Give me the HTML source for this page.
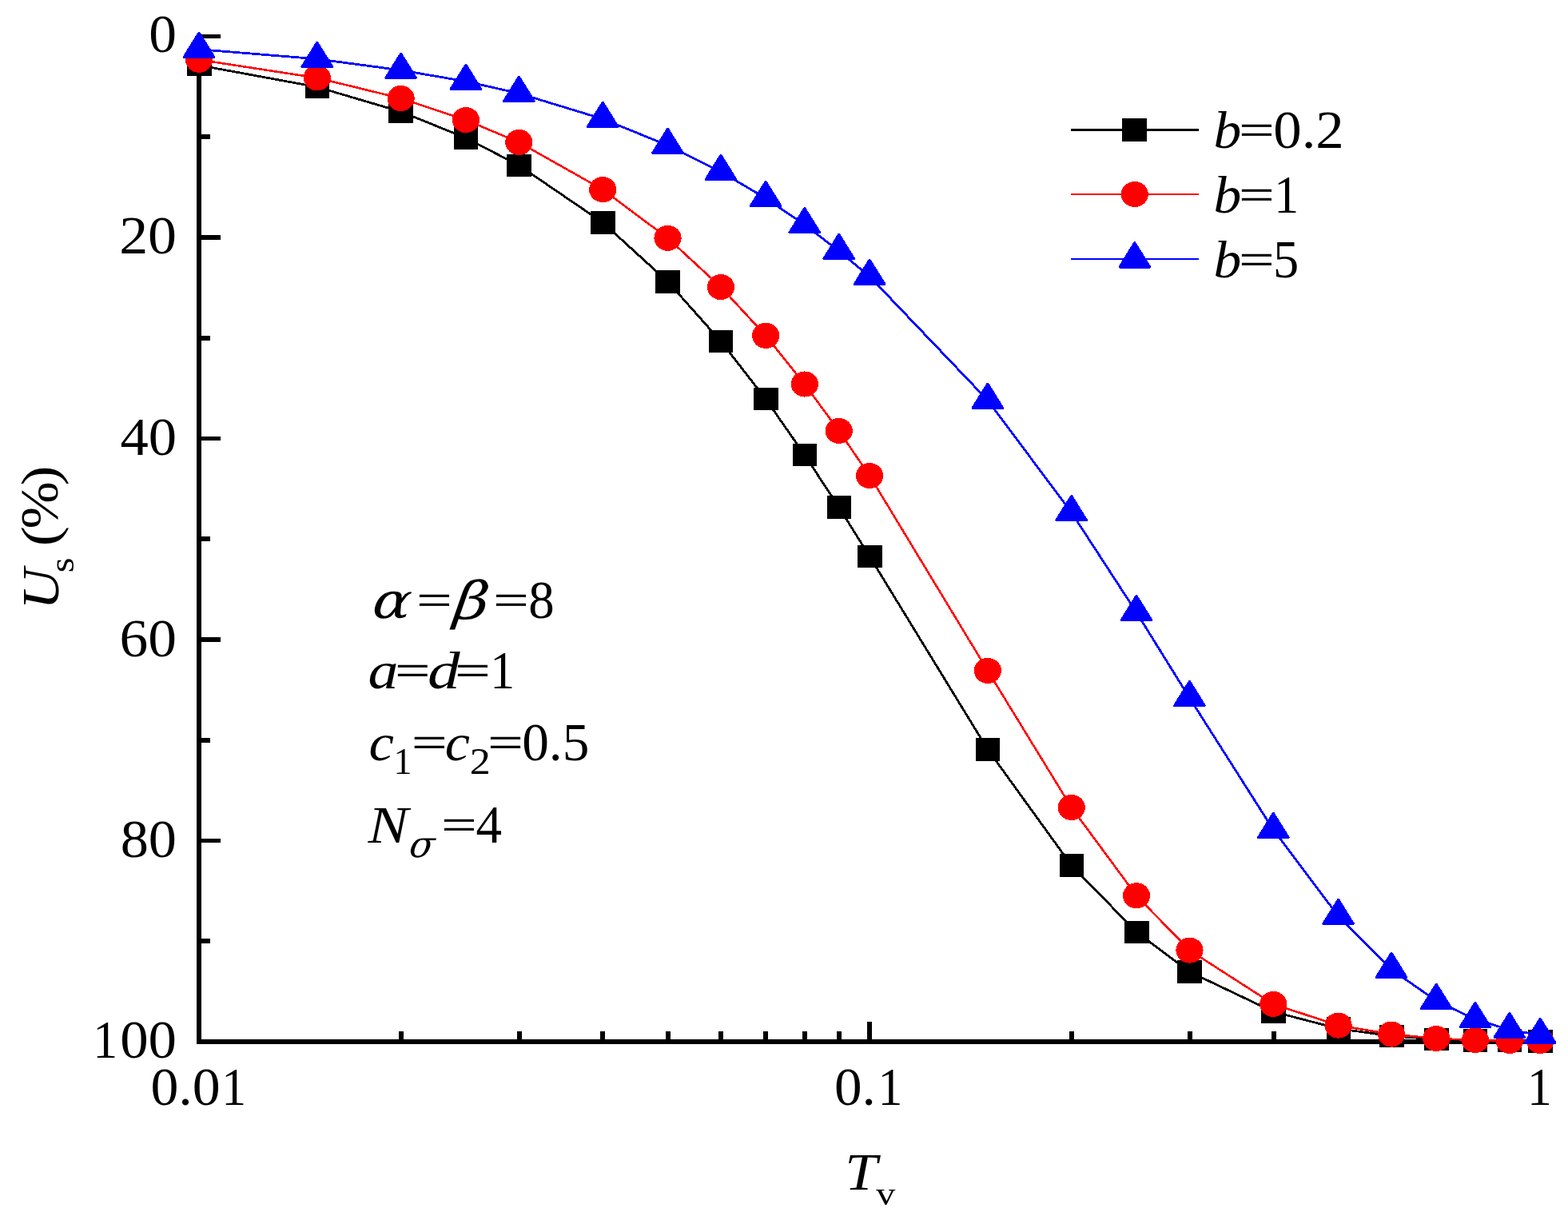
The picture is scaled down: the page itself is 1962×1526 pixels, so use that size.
<!DOCTYPE html>
<html lang="en"><head><meta charset="utf-8"><title>Us vs Tv</title>
<style>html,body{margin:0;padding:0;background:#fff}body{width:1962px;height:1526px;overflow:hidden}svg{display:block}
text{font-family:"Liberation Serif","DejaVu Serif",serif;font-size:66px;fill:#000;white-space:pre}.i{font-style:italic}.g{font-family:"DejaVu Math TeX Gyre","DejaVu Serif",serif}</style></head><body>
<svg width="1962" height="1526" viewBox="0 0 1962 1526">
<rect width="1962" height="1526" fill="#fff"/>
<g fill="#000" shape-rendering="crispEdges">
<rect x="246" y="43" width="6" height="1263"/>
<rect x="246" y="1300" width="1684" height="6"/>
<rect x="246" y="42.7" width="30" height="5.6"/>
<rect x="246" y="168.45" width="17" height="5.6"/>
<rect x="246" y="294.2" width="30" height="5.6"/>
<rect x="246" y="419.95" width="17" height="5.6"/>
<rect x="246" y="545.7" width="30" height="5.6"/>
<rect x="246" y="671.45" width="17" height="5.6"/>
<rect x="246" y="797.2" width="30" height="5.6"/>
<rect x="246" y="922.95" width="17" height="5.6"/>
<rect x="246" y="1048.7" width="30" height="5.6"/>
<rect x="246" y="1174.45" width="17" height="5.6"/>
<rect x="499" y="1290" width="6" height="13"/>
<rect x="647" y="1290" width="6" height="13"/>
<rect x="751" y="1290" width="6" height="13"/>
<rect x="833" y="1290" width="6" height="13"/>
<rect x="899" y="1290" width="6" height="13"/>
<rect x="955" y="1290" width="6" height="13"/>
<rect x="1004" y="1290" width="6" height="13"/>
<rect x="1047" y="1290" width="6" height="13"/>
<rect x="1085" y="1278" width="6" height="25"/>
<rect x="1338" y="1290" width="6" height="13"/>
<rect x="1486" y="1290" width="6" height="13"/>
<rect x="1591" y="1290" width="6" height="13"/>
<rect x="1672" y="1290" width="6" height="13"/>
<rect x="1738" y="1290" width="6" height="13"/>
<rect x="1795" y="1290" width="6" height="13"/>
<rect x="1843" y="1290" width="6" height="13"/>
<rect x="1886" y="1290" width="6" height="13"/>
<rect x="1925" y="1278" width="6" height="25"/>
</g>
<g>
<g><text transform="translate(186.3,65.4) scale(1.0329,1)" style="font-size:67.2px">0</text></g>
<g><text transform="translate(149.14,317.2) scale(1.0708,1)" style="font-size:67.2px">20</text></g>
<g><text transform="translate(150.39,569) scale(1.0515,1)" style="font-size:67.2px">40</text></g>
<g><text transform="translate(149.56,820.5) scale(1.0643,1)" style="font-size:67.2px">60</text></g>
<g><text transform="translate(150.66,1072.1) scale(1.0473,1)" style="font-size:67.2px">80</text></g>
<g><text transform="translate(116.14,1323.3) scale(0.92,1)" style="font-size:67.2px">1</text><text transform="translate(150.14,1323.3) scale(1.0553,1)" style="font-size:67.2px">00</text></g>
<g><text transform="translate(188.38,1381.6) scale(1.0398,1)" style="font-size:67.2px">0.0</text><text transform="translate(277.29,1381.6) scale(0.92,1)" style="font-size:67.2px">1</text></g>
<g><text transform="translate(1044.01,1381.6) scale(1.0296,1)" style="font-size:67.2px">0.</text><text transform="translate(1098.59,1381.6) scale(0.92,1)" style="font-size:67.2px">1</text></g>
<g><text transform="translate(1911.04,1381.6) scale(0.92,1)" style="font-size:67.2px">1</text></g>
</g>
<g>
<g><text transform="translate(1057.37,1488.3) scale(1.1019,1)" class="i">T</text><text transform="translate(1096.2,1506.57) scale(1.0435,0.9251)" style="font-size:46px">v</text></g>
<g><text transform="translate(72.54,762.39) rotate(-90) scale(1.0794,1.0071)" class="i">U</text><text transform="translate(91.85,716.13) rotate(-90) scale(1.0504,0.9828)" style="font-size:46px">s </text><text transform="translate(72.14,683.3) rotate(-90) scale(1.1415,0.9884)">(</text><text transform="translate(72.36,661.59) rotate(-90) scale(1.0774,1.0176)">%</text><text transform="translate(72.14,607.55) rotate(-90) scale(1.1415,0.9884)">)</text></g>
</g>
<g fill="#000" stroke="none" shape-rendering="crispEdges">
<polyline points="249,81.6 396.76,108.8 501.59,139.7 582.91,172.5 649.35,206.9 754.19,278.3 835.51,352.3 901.95,426.9 958.12,499.1 1006.78,569 1049.7,634.4 1088.1,696 1235.86,937.3 1340.69,1082.4 1422.01,1165.8 1488.45,1215.6 1593.29,1265.5 1674.61,1286.6 1741.05,1295.9 1797.22,1299.9 1845.88,1301.5 1888.8,1301.6 1927.2,1302.5" fill="none" stroke="#000" stroke-width="2.8" stroke-linejoin="round"/>
<rect x="233.9" y="65.9" width="30.6" height="28.6"/>
<rect x="381.66" y="94.5" width="30.6" height="28.6"/>
<rect x="486.49" y="125.4" width="30.6" height="28.6"/>
<rect x="567.81" y="158.2" width="30.6" height="28.6"/>
<rect x="634.25" y="192.6" width="30.6" height="28.6"/>
<rect x="739.09" y="264" width="30.6" height="28.6"/>
<rect x="820.41" y="338" width="30.6" height="28.6"/>
<rect x="886.85" y="412.6" width="30.6" height="28.6"/>
<rect x="943.02" y="484.8" width="30.6" height="28.6"/>
<rect x="991.68" y="554.7" width="30.6" height="28.6"/>
<rect x="1034.6" y="620.1" width="30.6" height="28.6"/>
<rect x="1073" y="681.7" width="30.6" height="28.6"/>
<rect x="1220.76" y="923" width="30.6" height="28.6"/>
<rect x="1325.59" y="1068.1" width="30.6" height="28.6"/>
<rect x="1406.91" y="1151.5" width="30.6" height="28.6"/>
<rect x="1473.35" y="1201.3" width="30.6" height="28.6"/>
<rect x="1578.19" y="1251.2" width="30.6" height="28.6"/>
<rect x="1659.51" y="1272.3" width="30.6" height="28.6"/>
<rect x="1725.95" y="1281.6" width="30.6" height="28.6"/>
<rect x="1782.12" y="1285.6" width="30.6" height="28.6"/>
<rect x="1830.78" y="1287.2" width="30.6" height="28.6"/>
<rect x="1873.7" y="1287.3" width="30.6" height="28.6"/>
<rect x="1912.1" y="1288.2" width="30.6" height="28.6"/>
</g>
<g fill="#f00" stroke="none" shape-rendering="crispEdges">
<polyline points="249,74.7 396.76,97.4 501.59,123 582.91,150.1 649.35,178 754.19,237.1 835.51,297.8 901.95,359.1 958.12,419.8 1006.78,480.5 1049.7,538.9 1088.1,595 1235.86,838.9 1340.69,1010 1422.01,1120.3 1488.45,1188.6 1593.29,1256 1674.61,1282.6 1741.05,1293.6 1797.22,1299 1845.88,1301 1888.8,1302 1927.2,1302" fill="none" stroke="#f00" stroke-width="2.6" stroke-linejoin="round"/>
<ellipse cx="249" cy="74.7" rx="17.1" ry="16.05"/>
<ellipse cx="396.76" cy="97.4" rx="17.1" ry="16.05"/>
<ellipse cx="501.59" cy="123" rx="17.1" ry="16.05"/>
<ellipse cx="582.91" cy="150.1" rx="17.1" ry="16.05"/>
<ellipse cx="649.35" cy="178" rx="17.1" ry="16.05"/>
<ellipse cx="754.19" cy="237.1" rx="17.1" ry="16.05"/>
<ellipse cx="835.51" cy="297.8" rx="17.1" ry="16.05"/>
<ellipse cx="901.95" cy="359.1" rx="17.1" ry="16.05"/>
<ellipse cx="958.12" cy="419.8" rx="17.1" ry="16.05"/>
<ellipse cx="1006.78" cy="480.5" rx="17.1" ry="16.05"/>
<ellipse cx="1049.7" cy="538.9" rx="17.1" ry="16.05"/>
<ellipse cx="1088.1" cy="595" rx="17.1" ry="16.05"/>
<ellipse cx="1235.86" cy="838.9" rx="17.1" ry="16.05"/>
<ellipse cx="1340.69" cy="1010" rx="17.1" ry="16.05"/>
<ellipse cx="1422.01" cy="1120.3" rx="17.1" ry="16.05"/>
<ellipse cx="1488.45" cy="1188.6" rx="17.1" ry="16.05"/>
<ellipse cx="1593.29" cy="1256" rx="17.1" ry="16.05"/>
<ellipse cx="1674.61" cy="1282.6" rx="17.1" ry="16.05"/>
<ellipse cx="1741.05" cy="1293.6" rx="17.1" ry="16.05"/>
<ellipse cx="1797.22" cy="1299" rx="17.1" ry="16.05"/>
<ellipse cx="1845.88" cy="1301" rx="17.1" ry="16.05"/>
<ellipse cx="1888.8" cy="1302" rx="17.1" ry="16.05"/>
<ellipse cx="1927.2" cy="1302" rx="17.1" ry="16.05"/>
</g>
<g fill="#00f" stroke="none" shape-rendering="crispEdges">
<polyline points="249,61.7 396.76,73.8 501.59,87.8 582.91,101.8 649.35,116.8 754.19,148.8 835.51,181.8 901.95,214.8 958.12,248 1006.78,281.1 1049.7,313.9 1088.1,345.8 1235.86,500.7 1340.69,641 1422.01,766 1488.45,873 1593.29,1037.9 1674.61,1145.9 1741.05,1212.8 1797.22,1251.8 1845.88,1275 1888.8,1288 1927.2,1294.9" fill="none" stroke="#00f" stroke-width="2.8" stroke-linejoin="round"/>
<g stroke="#00f" stroke-width="3.4" stroke-linejoin="round">
<polygon points="249,41.4 267.6,71.3 230.4,71.3"/>
<polygon points="396.76,53.5 415.36,83.4 378.16,83.4"/>
<polygon points="501.59,67.5 520.19,97.4 482.99,97.4"/>
<polygon points="582.91,81.5 601.51,111.4 564.31,111.4"/>
<polygon points="649.35,96.5 667.95,126.4 630.75,126.4"/>
<polygon points="754.19,128.5 772.79,158.4 735.59,158.4"/>
<polygon points="835.51,161.5 854.11,191.4 816.91,191.4"/>
<polygon points="901.95,194.5 920.55,224.4 883.35,224.4"/>
<polygon points="958.12,227.7 976.72,257.6 939.52,257.6"/>
<polygon points="1006.78,260.8 1025.38,290.7 988.18,290.7"/>
<polygon points="1049.7,293.6 1068.3,323.5 1031.1,323.5"/>
<polygon points="1088.1,325.5 1106.7,355.4 1069.5,355.4"/>
<polygon points="1235.86,480.4 1254.46,510.3 1217.26,510.3"/>
<polygon points="1340.69,620.7 1359.29,650.6 1322.09,650.6"/>
<polygon points="1422.01,745.7 1440.61,775.6 1403.41,775.6"/>
<polygon points="1488.45,852.7 1507.05,882.6 1469.85,882.6"/>
<polygon points="1593.29,1017.6 1611.89,1047.5 1574.69,1047.5"/>
<polygon points="1674.61,1125.6 1693.21,1155.5 1656.01,1155.5"/>
<polygon points="1741.05,1192.5 1759.65,1222.4 1722.45,1222.4"/>
<polygon points="1797.22,1231.5 1815.82,1261.4 1778.62,1261.4"/>
<polygon points="1845.88,1254.7 1864.48,1284.6 1827.28,1284.6"/>
<polygon points="1888.8,1267.7 1907.4,1297.6 1870.2,1297.6"/>
<polygon points="1927.2,1274.6 1945.8,1304.5 1908.6,1304.5"/>
</g>
</g>
<g>
<g fill="#000" shape-rendering="crispEdges"><rect x="1340" y="161" width="160" height="3" stroke="none"/><rect x="1404" y="148" width="31" height="29"/></g>
<g fill="#f00" shape-rendering="crispEdges"><rect x="1340" y="242" width="160" height="2" stroke="none"/><ellipse cx="1419.8" cy="243" rx="17.1" ry="16.05"/></g>
<g fill="#00f" shape-rendering="crispEdges" stroke="#00f" stroke-width="3.4" stroke-linejoin="round"><rect x="1340" y="323" width="160" height="2" stroke="none"/><polygon points="1419.8,304 1438.4,333.9 1401.2,333.9"/></g>
<g><text transform="translate(1518.39,185) scale(1.0545,1)" class="i">b</text><text transform="translate(1550.59,180.99) scale(1.175,0.8266)" stroke="#000" stroke-width="0.8">=</text><text transform="translate(1593.24,185) scale(1.0542,1)" style="font-size:67.2px">0.2</text></g>
<g><text transform="translate(1518.39,266) scale(1.0545,1)" class="i">b</text><text transform="translate(1550.59,261.99) scale(1.175,0.8266)" stroke="#000" stroke-width="0.8">=</text><text transform="translate(1594.19,266) scale(0.92,1)" style="font-size:67.2px">1</text></g>
<g><text transform="translate(1518.39,346.9) scale(1.0545,1)" class="i">b</text><text transform="translate(1550.59,342.89) scale(1.175,0.8266)" stroke="#000" stroke-width="0.8">=</text><text transform="translate(1592.9,346.9) scale(0.9576,1)" style="font-size:67.2px">5</text></g>
</g>
<g>
<g><text transform="translate(458.67,773.12) scale(1.0751,0.948) skewX(-17)" class="g">α</text><text transform="translate(521.48,769.39) scale(1.1782,0.8266)" stroke="#000" stroke-width="0.8">=</text><text transform="translate(561.3,774.22) scale(1.1239,0.9847) skewX(-17)" class="g">β</text><text transform="translate(617.58,769.39) scale(1.1782,0.8266)" stroke="#000" stroke-width="0.8">=</text><text transform="translate(661.16,773.4) scale(0.9664,1)" style="font-size:67.2px">8</text></g>
<g><text transform="translate(460.62,861.4) scale(1.1491,1)" class="i">a</text><text transform="translate(494.61,857.39) scale(1.1686,0.8266)" stroke="#000" stroke-width="0.8">=</text><text transform="translate(535.06,861.4) scale(1.2314,1)" class="i">d</text><text transform="translate(569.58,857.39) scale(1.1782,0.8266)" stroke="#000" stroke-width="0.8">=</text><text transform="translate(613.29,861.4) scale(0.92,1)" style="font-size:67.2px">1</text></g>
<g><text transform="translate(461.38,950.7) scale(1.0728,1)" class="i">c</text><text transform="translate(492.57,968.3) scale(1,1)" style="font-size:46px">1</text><text transform="translate(515.37,946.69) scale(1.1813,0.8266)" stroke="#000" stroke-width="0.8">=</text><text transform="translate(556.79,950.7) scale(1.0653,1)" class="i">c</text><text transform="translate(587.68,968.3) scale(1.1342,1)" style="font-size:46px">2</text><text transform="translate(610.47,946.69) scale(1.1813,0.8266)" stroke="#000" stroke-width="0.8">=</text><text transform="translate(653.17,950.7) scale(1.0026,1)" style="font-size:67.2px">0.5</text></g>
<g><text transform="translate(460.47,1054) scale(1.1427,1)" class="i">N</text><text transform="translate(507.34,1072.44) scale(1.0005,0.9798) skewX(-17)" class="g" style="font-size:46px">σ</text><text transform="translate(552.59,1049.99) scale(1.175,0.8266)" stroke="#000" stroke-width="0.8">=</text><text transform="translate(595.5,1054) scale(0.9697,1)" style="font-size:67.2px">4</text></g>
</g>
</svg></body></html>
